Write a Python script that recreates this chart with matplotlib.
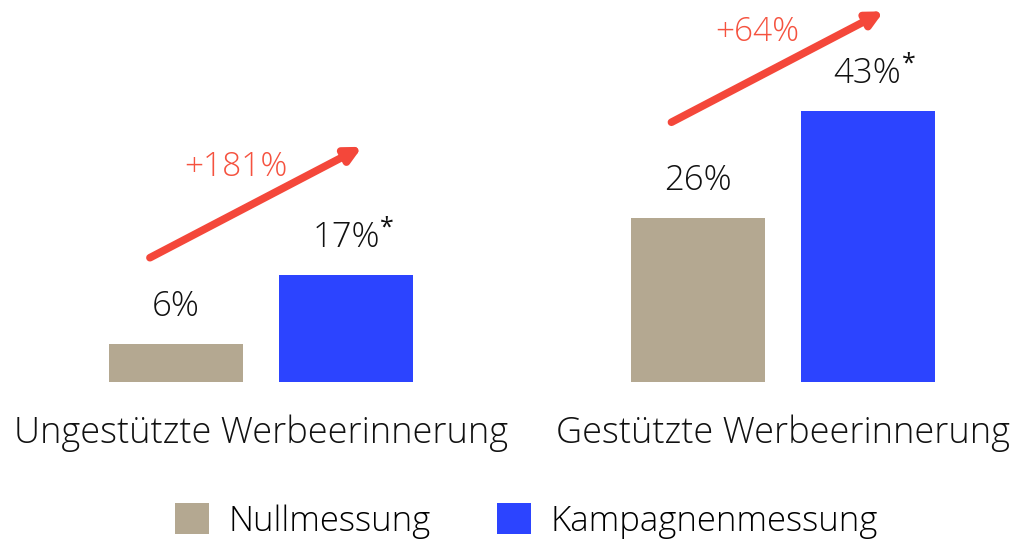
import matplotlib.pyplot as plt
from matplotlib.patches import Patch

# daten
kategorien = ["Ungestützte Werbeerinnerung", "Gestützte Werbeerinnerung"]
nullmessung = [6, 26]
kampagne = [17, 43]
wert_labels_null = ["6%", "26%"]
wert_labels_kamp = ["17%", "43%"]
steigerung = ["+181%", "+64%"]
serien = ["Nullmessung", "Kampagnenmessung"]

farbe_null = "#b4a891"
farbe_kamp = "#2c44ff"
farbe_pfeil = "#f4473a"
farbe_text_rot = "#f5523f"

plt.rcParams['font.family'] = ['Open Sans', 'DejaVu Sans']
plt.rcParams['font.weight'] = 'light'

fig = plt.figure(figsize=(10.12, 5.4), dpi=100)
ax = fig.add_axes([0, 0, 1, 1])

breite = 0.257
versatz = 0.163
x = [0, 1]

ax.bar([i - versatz for i in x], nullmessung, width=breite, color=farbe_null)
ax.bar([i + versatz for i in x], kampagne, width=breite, color=farbe_kamp)

# werte ueber den balken
for i in x:
    ax.text(i - versatz, nullmessung[i] + 3.2, wert_labels_null[i], ha='center', va='bottom',
            fontsize=25, color='#111111')
    t = ax.text(i + versatz, kampagne[i] + 3.2, wert_labels_kamp[i], ha='center', va='bottom',
                fontsize=25, color='#111111')
    # sternchen hochgestellt
    ax.annotate("*", xy=(1.0, 0.78), xycoords=t, ha='left', va='center',
                fontsize=18, fontweight='normal', color='#111111')

# pfeile mit steigerung
pfeil_start = [19.7, 41.2]
for i in x:
    x0 = i - versatz - 0.05
    y0 = pfeil_start[i]
    ax.annotate("", xy=(x0 + 0.407, y0 + 17.6), xytext=(x0, y0),
                arrowprops=dict(arrowstyle="-|>,head_length=0.9,head_width=0.45",
                                color=farbe_pfeil, lw=5.5, shrinkA=0, shrinkB=0))
    ax.text(x0 + 0.165, y0 + 14.3, steigerung[i], ha='center', va='center',
            fontsize=24, color=farbe_text_rot)

# kategorie beschriftung
for i in x:
    ax.text(i, -8.2, kategorien[i], ha='center', va='center', fontsize=26, color='#111111')

ax.set_xlim(-0.5005, 1.44)
ax.set_ylim(-25.1, 60.6)
ax.axis('off')

handles = [Patch(facecolor=farbe_null), Patch(facecolor=farbe_kamp)]
fig.legend(handles, serien, loc='center', bbox_to_anchor=(0.52, 0.035), ncol=2,
           frameon=False, fontsize=25, handlelength=1.0, handleheight=1.0,
           handletextpad=0.55, columnspacing=1.9)

plt.savefig("out.png", dpi=100)
